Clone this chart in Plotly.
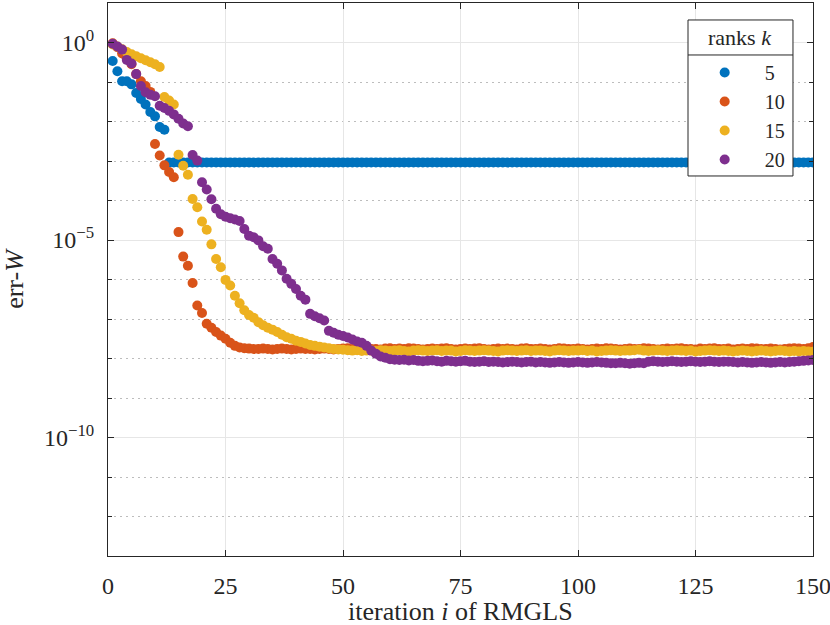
import numpy as np
import plotly.graph_objects as go

# iterations 1..150, values are log10(err-W)
iterations = list(range(1, 151))
rank_labels = ["5", "10", "15", "20"]

log_err_k5 = [
    -0.47, -0.73, -0.98, -0.98, -1.06, -1.28, -1.43, -1.57, -1.76, -1.87,
    -2.14, -2.21, -3.04, -3.04, -3.04, -3.04, -3.04, -3.04, -3.04, -3.04,
    -3.04, -3.04, -3.04, -3.04, -3.04, -3.04, -3.04, -3.04, -3.04, -3.04,
    -3.04, -3.04, -3.04, -3.04, -3.04, -3.04, -3.04, -3.04, -3.04, -3.04,
    -3.04, -3.04, -3.04, -3.04, -3.04, -3.04, -3.04, -3.04, -3.04, -3.04,
    -3.04, -3.04, -3.04, -3.04, -3.04, -3.04, -3.04, -3.04, -3.04, -3.04,
    -3.04, -3.04, -3.04, -3.04, -3.04, -3.04, -3.04, -3.04, -3.04, -3.04,
    -3.04, -3.04, -3.04, -3.04, -3.04, -3.04, -3.04, -3.04, -3.04, -3.04,
    -3.04, -3.04, -3.04, -3.04, -3.04, -3.04, -3.04, -3.04, -3.04, -3.04,
    -3.04, -3.04, -3.04, -3.04, -3.04, -3.04, -3.04, -3.04, -3.04, -3.04,
    -3.04, -3.04, -3.04, -3.04, -3.04, -3.04, -3.04, -3.04, -3.04, -3.04,
    -3.04, -3.04, -3.04, -3.04, -3.04, -3.04, -3.04, -3.04, -3.04, -3.04,
    -3.04, -3.04, -3.04, -3.04, -3.04, -3.04, -3.04, -3.04, -3.04, -3.04,
    -3.04, -3.04, -3.04, -3.04, -3.04, -3.04, -3.04, -3.04, -3.04, -3.04,
    -3.04, -3.04, -3.04, -3.04, -3.04, -3.04, -3.04, -3.04, -3.04, -3.04,
]

log_err_k10 = [
    -0.02, -0.12, -0.28, -0.40, -0.55, -0.80, -0.98, -1.10, -1.25, -2.57,
    -2.86, -3.11, -3.28, -3.41, -4.80, -5.42, -5.65, -6.09, -6.66, -6.85,
    -7.12, -7.22, -7.33, -7.42, -7.50, -7.60, -7.68, -7.72, -7.74, -7.75,
    -7.76, -7.76, -7.75, -7.76, -7.77, -7.76, -7.75, -7.76, -7.77, -7.76,
    -7.75, -7.76, -7.76, -7.77, -7.76, -7.75, -7.76, -7.77, -7.76, -7.75,
    -7.74, -7.76, -7.77, -7.76, -7.75, -7.76, -7.76, -7.77, -7.75, -7.74,
    -7.76, -7.75, -7.76, -7.74, -7.75, -7.76, -7.77, -7.76, -7.75, -7.76,
    -7.75, -7.74, -7.76, -7.77, -7.76, -7.75, -7.76, -7.75, -7.74, -7.76,
    -7.77, -7.76, -7.75, -7.76, -7.75, -7.76, -7.77, -7.75, -7.74, -7.76,
    -7.76, -7.75, -7.76, -7.77, -7.76, -7.74, -7.75, -7.76, -7.76, -7.75,
    -7.76, -7.77, -7.76, -7.75, -7.76, -7.74, -7.75, -7.76, -7.77, -7.76,
    -7.75, -7.76, -7.76, -7.74, -7.75, -7.76, -7.77, -7.76, -7.75, -7.76,
    -7.75, -7.74, -7.76, -7.76, -7.77, -7.75, -7.76, -7.75, -7.74, -7.76,
    -7.76, -7.75, -7.77, -7.76, -7.75, -7.76, -7.74, -7.75, -7.76, -7.76,
    -7.75, -7.76, -7.77, -7.76, -7.75, -7.74, -7.75, -7.76, -7.74, -7.71,
]

log_err_k15 = [
    -0.05, -0.10, -0.17, -0.24, -0.30, -0.35, -0.40, -0.45, -0.50, -0.55,
    -0.62, -1.38, -1.47, -1.57, -2.84, -3.12, -3.35, -3.96, -4.17, -4.53,
    -4.74, -5.11, -5.48, -5.69, -6.01, -6.15, -6.41, -6.60, -6.78, -6.90,
    -6.97, -7.08, -7.16, -7.22, -7.27, -7.33, -7.40, -7.46, -7.50, -7.55,
    -7.58, -7.62, -7.66, -7.68, -7.70, -7.72, -7.74, -7.76, -7.77, -7.78,
    -7.79, -7.80, -7.79, -7.81, -7.80, -7.80, -7.81, -7.79, -7.80, -7.81,
    -7.80, -7.79, -7.81, -7.82, -7.80, -7.79, -7.80, -7.81, -7.80, -7.79,
    -7.81, -7.80, -7.80, -7.82, -7.81, -7.79, -7.80, -7.81, -7.80, -7.79,
    -7.80, -7.81, -7.82, -7.80, -7.79, -7.80, -7.81, -7.80, -7.79, -7.81,
    -7.80, -7.80, -7.81, -7.82, -7.80, -7.79, -7.80, -7.81, -7.80, -7.80,
    -7.79, -7.81, -7.80, -7.82, -7.81, -7.80, -7.79, -7.80, -7.81, -7.80,
    -7.80, -7.79, -7.78, -7.80, -7.81, -7.80, -7.79, -7.80, -7.81, -7.80,
    -7.79, -7.80, -7.81, -7.80, -7.82, -7.81, -7.80, -7.79, -7.80, -7.81,
    -7.80, -7.81, -7.82, -7.81, -7.80, -7.81, -7.82, -7.81, -7.80, -7.81,
    -7.82, -7.81, -7.80, -7.81, -7.82, -7.81, -7.82, -7.81, -7.82, -7.83,
]

log_err_k20 = [
    -0.03, -0.10, -0.18, -0.44, -0.53, -0.80, -1.10, -1.26, -1.32, -1.36,
    -1.60, -1.66, -1.73, -1.82, -1.93, -2.05, -2.12, -2.85, -2.99, -3.54,
    -3.72, -3.97, -4.21, -4.35, -4.41, -4.45, -4.48, -4.52, -4.72, -4.89,
    -4.93, -5.01, -5.16, -5.22, -5.48, -5.60, -5.77, -5.98, -6.11, -6.24,
    -6.41, -6.51, -6.87, -6.93, -6.98, -7.04, -7.30, -7.35, -7.40, -7.43,
    -7.47, -7.52, -7.57, -7.60, -7.68, -7.80, -7.88, -7.95, -7.98, -8.02,
    -8.03, -8.04, -8.03, -8.05, -8.04, -8.06, -8.07, -8.06, -8.05, -8.07,
    -8.08, -8.06, -8.07, -8.08, -8.07, -8.06, -8.08, -8.09, -8.08, -8.07,
    -8.09, -8.08, -8.09, -8.10, -8.09, -8.08, -8.09, -8.10, -8.09, -8.08,
    -8.10, -8.09, -8.10, -8.11, -8.10, -8.09, -8.10, -8.11, -8.10, -8.09,
    -8.10, -8.11, -8.10, -8.09, -8.10, -8.11, -8.12, -8.12, -8.11, -8.12,
    -8.13, -8.12, -8.11, -8.12, -8.08, -8.07, -8.08, -8.09, -8.08, -8.07,
    -8.08, -8.09, -8.08, -8.07, -8.08, -8.09, -8.08, -8.07, -8.08, -8.09,
    -8.08, -8.08, -8.09, -8.10, -8.09, -8.10, -8.11, -8.10, -8.09, -8.10,
    -8.11, -8.10, -8.09, -8.10, -8.09, -8.08, -8.07, -8.06, -8.05, -8.04,
]

series = [log_err_k5, log_err_k10, log_err_k15, log_err_k20]
colors = ["#0072BD", "#D95319", "#EDB120", "#7E2F8E"]

FONT = "Liberation Serif"
INK = "#262626"

fig = go.Figure()
for label, logs, color in zip(rank_labels, series, colors):
    fig.add_trace(go.Scatter(
        x=iterations,
        y=10 ** np.array(logs),
        mode="markers",
        name=label,
        marker=dict(color=color, size=10, line=dict(width=0)),
    ))

# decades without a label get a dotted grid line
minor_decades = [10.0 ** p for p in range(1, -14, -1) if p % 5 != 0]

fig.update_xaxes(
    range=[0, 150],
    tickvals=[0, 25, 50, 75, 100, 125, 150],
    ticks="inside", ticklen=6, tickcolor=INK, ticklabelstandoff=8,
    ticklabeloverflow="allow",
    showline=True, linecolor=INK, linewidth=1, mirror="ticks",
    showgrid=True, gridcolor="#e6e6e6", gridwidth=1,
    zeroline=False, automargin=False,
    tickfont=dict(size=24),
)
fig.update_yaxes(
    type="log",
    range=[-13, 1],
    tickvals=[1, 1e-5, 1e-10],
    ticktext=["10<sup>0</sup>", "10<sup>\u22125</sup>", "10<sup>\u221210</sup>"],
    ticks="inside", ticklen=6, tickcolor=INK, ticklabelstandoff=8,
    showline=True, linecolor=INK, linewidth=1, mirror="ticks",
    showgrid=True, gridcolor="#e6e6e6", gridwidth=1,
    zeroline=False, automargin=False,
    tickfont=dict(size=24),
    minor=dict(tickmode="array", tickvals=minor_decades, ticks="inside",
               ticklen=4, tickcolor=INK, showgrid=True, gridcolor="#bdbdbd",
               griddash="1.5px,4.5px", gridwidth=1),
    title=dict(text="err-<i>W</i>", standoff=17, font=dict(size=26)),
)

# x axis title placed as an annotation so it sits just under the tick labels
fig.add_annotation(text="iteration <i>i</i> of RMGLS", xref="paper", yref="paper",
                   x=0.5, y=-0.0995, xanchor="center", yanchor="middle",
                   showarrow=False, font=dict(size=26, family=FONT, color=INK))

# legend box: frame, title and separator drawn around a borderless legend
box_x0, box_x1 = 0.8227, 0.9716
box_y0, box_y1 = 0.6872, 0.9693
sep_y = 0.906

fig.add_shape(type="rect", xref="paper", yref="paper",
              x0=box_x0, x1=box_x1, y0=box_y0, y1=box_y1,
              fillcolor="white", line=dict(color=INK, width=1), layer="above")
fig.add_shape(type="line", xref="paper", yref="paper",
              x0=box_x0, x1=box_x1, y0=sep_y, y1=sep_y,
              line=dict(color=INK, width=1), layer="above")
fig.add_annotation(text="ranks <i>k</i>", xref="paper", yref="paper",
                   x=(box_x0 + box_x1) / 2, y=(sep_y + box_y1) / 2,
                   xanchor="center", yanchor="middle", showarrow=False,
                   font=dict(size=22, family=FONT, color=INK))

fig.update_layout(
    width=830, height=625,
    margin=dict(l=108, r=17, t=3, b=69),
    plot_bgcolor="white", paper_bgcolor="white",
    font=dict(family=FONT, size=22, color=INK),
    legend=dict(
        x=0.818, y=0.9096, xanchor="left", yanchor="top",
        bgcolor="rgba(0,0,0,0)", borderwidth=0,
        font=dict(size=20), itemwidth=70,
    ),
    showlegend=True,
)

fig.write_html("out.html", config={"displayModeBar": False},
               post_script="document.body.style.margin='0';")
